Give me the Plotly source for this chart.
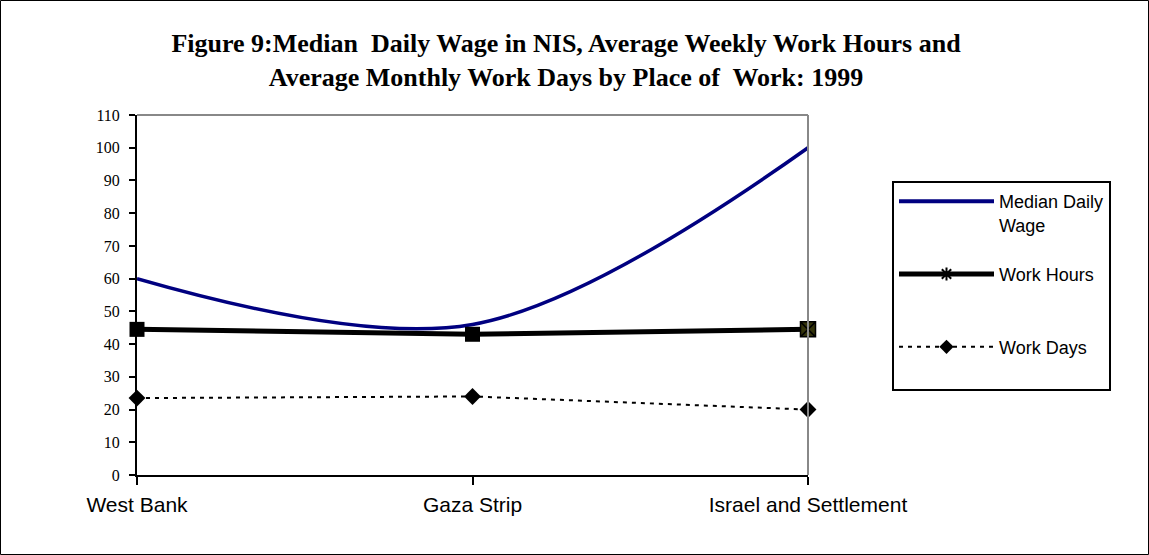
import plotly.graph_objects as go

places = ["West Bank", "Gaza Strip", "Israel and Settlement"]
median_daily_wage = [60, 46, 100]
work_hours = [44.5, 43, 44.5]
work_days = [23.5, 24, 20]
y_ticks = list(range(0, 111, 10))

W, H = 1149, 555
L, R, T, B = 137, 341, 115, 80
pw, ph = W - L - R, H - T - B

xs = list(range(len(places)))

fig = go.Figure()
fig.add_trace(go.Scatter(x=xs, y=median_daily_wage, mode="lines", line=dict(color="#000080", width=3.5, shape="spline", smoothing=1),
                         showlegend=False, cliponaxis=False, hoverinfo="skip"))
fig.add_trace(go.Scatter(x=xs, y=work_hours, mode="lines+markers", line=dict(color="black", width=5),
                         marker=dict(symbol=["square", "square", "square-x"], size=15,
                                     color=["black", "black", "#33330a"],
                                     line=dict(color="black", width=[0, 0, 1.5])),
                         showlegend=False, cliponaxis=False, hoverinfo="skip"))
fig.add_trace(go.Scatter(x=xs, y=work_days, mode="lines+markers", line=dict(color="black", width=2, dash="4px,5px"),
                         marker=dict(symbol="diamond", size=13, color="black"),
                         showlegend=False, cliponaxis=False, hoverinfo="skip"))

# legend entries
fig.add_trace(go.Scatter(x=[None], y=[None], mode="lines", name="Median Daily<br>Wage",
                         line=dict(color="#000080", width=4), legendgroup="a"))
fig.add_trace(go.Scatter(x=[None], y=[None], mode="lines+markers", name="Work Hours<br>\u00a0",
                         line=dict(color="black", width=5), legendgroup="b",
                         marker=dict(symbol="asterisk-open", size=11, color="black", line=dict(color="black", width=2))))
fig.add_trace(go.Scatter(x=[None], y=[None], mode="lines+markers", name="Work Days<br>\u00a0",
                         line=dict(color="black", width=2, dash="4px,5px"), legendgroup="c",
                         marker=dict(symbol="diamond", size=11, color="black")))

fig.update_layout(
    width=W, height=H,
    margin=dict(l=L, r=R, t=T, b=B),
    paper_bgcolor="white", plot_bgcolor="white",
    title=dict(text="<b>Figure 9:Median  Daily Wage in NIS, Average Weekly Work Hours and<br>Average Monthly Work Days by Place of  Work: 1999</b>",
               x=566 / W, xanchor="center", y=1 - 52 / H, yanchor="middle", xref="container", yref="container",
               font=dict(family="Liberation Serif", size=26, color="black")),
    xaxis=dict(range=[0, 2], tickvals=xs, ticktext=places, showgrid=False, zeroline=False,
               showline=True, linecolor="black", linewidth=2, ticks="outside", ticklen=8, tickwidth=2, tickcolor="black",
               ticklabelstandoff=2,
               tickfont=dict(family="Liberation Sans", size=21, color="black")),
    yaxis=dict(range=[0, 110], tickvals=y_ticks, showgrid=False, zeroline=False,
               showline=True, linecolor="black", linewidth=2, ticks="outside", ticklen=6, tickwidth=2, tickcolor="black",
               ticklabelstandoff=6,
               tickfont=dict(family="Liberation Serif", size=16, color="black")),
    legend=dict(x=(892 - L) / pw, y=(H - B - 181) / ph, xanchor="left", yanchor="top",
                bordercolor="black", borderwidth=2, bgcolor="white", valign="top",
                font=dict(family="Liberation Sans", size=18, color="black"),
                traceorder="grouped", tracegroupgap=23, itemwidth=95),
    shapes=[
        dict(type="line", xref="paper", yref="paper", x0=0, x1=1, y0=1, y1=1, line=dict(color="#888888", width=2)),
        dict(type="line", xref="paper", yref="paper", x0=1, x1=1, y0=0, y1=1, line=dict(color="#888888", width=2)),
        dict(type="rect", xref="paper", yref="paper", x0=-(L - 0.5) / pw, x1=(W - L - 0.5) / pw,
             y0=-(B - 0.5) / ph, y1=(H - B - 0.5) / ph, line=dict(color="black", width=1)),
    ],
)

fig.write_html("out.html", config={"displayModeBar": False},
               post_script="document.body.style.margin='0';document.body.style.padding='0';")
